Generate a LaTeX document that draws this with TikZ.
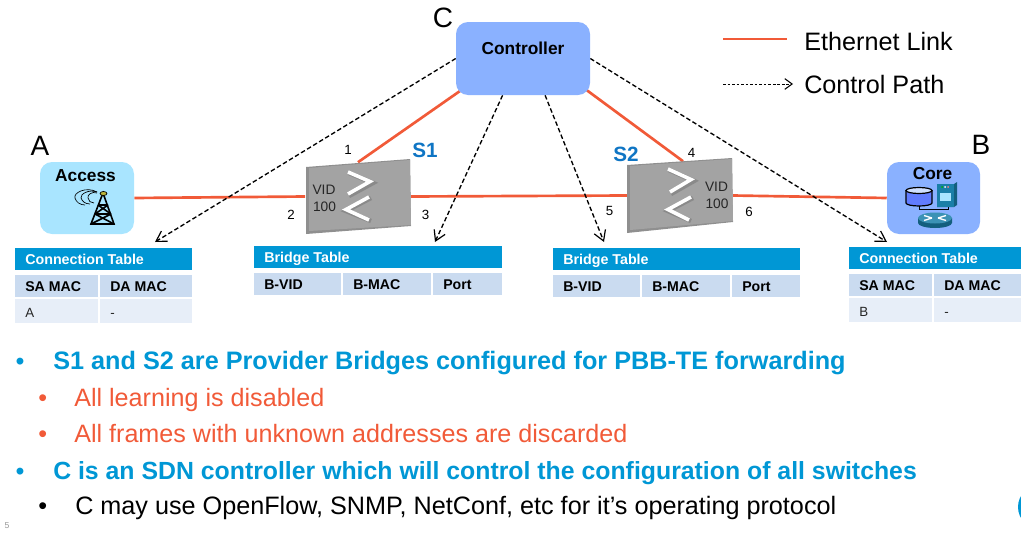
\documentclass[tikz,border=0pt]{standalone}
\usepackage{fontspec}
\setmainfont{Liberation Sans}
\usetikzlibrary{arrows.meta,calc,backgrounds}
\definecolor{linkred}{HTML}{F15A38}
\definecolor{hdrblue}{HTML}{0097D5}
\definecolor{rowblue}{HTML}{CADBF0}
\definecolor{cellblue}{HTML}{E7EEF8}
\definecolor{accessfill}{HTML}{A9E5FF}
\definecolor{ctrlfill}{HTML}{8AB1FF}
\definecolor{sblue}{HTML}{0F75C4}
\definecolor{teal}{HTML}{1A7FA8}
\newcommand{\fs}[1]{\fontsize{#1}{#1}\selectfont}
\newcommand{\tcell}[8]{%
  \fill[#6] (#2,#3) rectangle (#4,#5);
  \node[#7,anchor=base west,inner sep=0pt] (#1) at (#2+10,#5-5.5) {#8};}
\tikzset{
  x=0.75pt,y=-0.75pt,
  box/.style={rounded corners=9pt,inner sep=0pt,anchor=center},
  boxlabel/.style={font=\fs{13}\bfseries,inner sep=0pt},
  link/.style={draw=linkred,line width=2pt},
  ctl/.style={draw=black,line width=1pt,dash pattern=on 3.4pt off 1.9pt,-{Straight Barb[length=7.5pt,width=9pt,line width=0.9pt]}},
  hdrt/.style={font=\fs{10.7}\bfseries,text=white},
  colt/.style={font=\fs{10.6}\bfseries,text=black},
  valt/.style={font=\fs{10},text=black!85},
  port/.style={font=\fs{10},inner sep=0pt,text=black},
  big/.style={font=\fs{21},inner sep=0pt,text=black},
  swbox/.style={minimum width=78.75pt,minimum height=51pt,inner sep=0pt},
  swtext/.style={font=\fs{10.3},inner sep=0pt,align=center,text=black!85},
  blue text/.style={text=hdrblue,anchor=base west,inner sep=0pt},
  org text/.style={font=\fs{18.85},text=linkred,anchor=base west,inner sep=0pt},
  blk text/.style={font=\fs{18.9},text=black,anchor=base west,inner sep=0pt},
  chevs/.style={draw=black!55,line width=3.4pt,line join=miter,opacity=.5},
  chevw/.style={draw=white,line width=2.7pt,line join=miter},
}
\begin{document}
\begin{tikzpicture}
\useasboundingbox (0,0) rectangle (1021,539);
% boxes
\node[box,fill=accessfill,minimum width=70.5pt,minimum height=54pt] (access) at (87,198) {};
\node[box,fill=ctrlfill,minimum width=100.5pt,minimum height=54.75pt] (ctrl) at (523,58.5) {};
\node[box,fill=ctrlfill,minimum width=69.75pt,minimum height=54pt] (core) at (933.5,198) {};
\node[boxlabel] (ctrlt) at (523,48) {Controller};
\node[boxlabel] (acct) at (85.5,176) {Access};
\node[boxlabel] (coret) at (932.5,174) {Core};
\node[swbox] (s1) at (358,196.5) {};
\node[swbox] (s2) at (680,195.5) {};
% free ends
\coordinate (t1) at (155,242);
\coordinate (t2) at (435,242);
\coordinate (t3) at (604,242);
\coordinate (t4) at (887,242);
\begin{pgfonlayer}{background}
\draw[link] (access.east) -- (s1.west);
\draw[link] (s1.east) -- (s2.west);
\draw[link] (s2.east) -- (core.west);
\draw[link] ($(ctrl.center)+(-53,25.5)$) -- (s1.north);
\draw[link] ($(ctrl.center)+(54,24.5)$) -- (s2.85);
\draw[ctl] (ctrl.west) -- (t1);
\draw[ctl] (ctrl.241) -- (t2);
\draw[ctl] (ctrl.301) -- (t3);
\draw[ctl] (ctrl.east) -- (t4);
\end{pgfonlayer}
% switch S1
\fill[black!44] (306,167) -- (410,159) -- (411,226) -- (306,234) -- cycle;
\fill[black!36] (309,168) -- (410,160) -- (411,225) -- (309,231) -- cycle;
\draw[chevs] (349,173) -- (373,183) -- (349,196);
\draw[chevs] (371,198) -- (346,211) -- (371,221);
\draw[chevw] (348,172) -- (370,181.5) -- (348,194);
\draw[chevw] (369,197) -- (346,209.5) -- (369,220);
\node[swtext] (s1vid) at (324,190) {VID};
\node[swtext] (s1num) at (324.5,206.5) {100};
% switch S2
\fill[black!44] (627,165) -- (732,158) -- (733,222) -- (627,233) -- cycle;
\fill[black!36] (630,166) -- (732,159) -- (733,221) -- (630,230) -- cycle;
\draw[chevs] (669,170) -- (694,181) -- (671,194);
\draw[chevs] (693,198) -- (668,211) -- (691,221);
\draw[chevw] (668,169) -- (691,179.5) -- (670,192);
\draw[chevw] (691,197) -- (668,209.5) -- (689,220);
\node[swtext] (s2vid) at (716.5,187) {VID};
\node[swtext] (s2num) at (717,204) {100};
% port numbers & labels
\node[port] (p1) at (348,150) {1};
\node[port] (p2) at (291,215) {2};
\node[port] (p3) at (425.5,215) {3};
\node[port] (p4) at (691.5,153) {4};
\node[port] (p5) at (609.5,211) {5};
\node[port] (p6) at (749,212) {6};
\node[font=\fs{15.5}\bfseries,text=sblue,inner sep=0pt] (s1t) at (425,150) {S1};
\node[font=\fs{15.5}\bfseries,text=sblue,inner sep=0pt] (s2t) at (626,154) {S2};
\node[big] (la) at (40,146) {A};
\node[big] (lb) at (981,145) {B};
\node[big] (lc) at (443,18) {C};
% tower icon
\begin{scope}[line width=1.2pt,black]
\draw (103,193) -- (91,224) -- (114,224) -- cycle;
\draw (98,205) -- (108,205) (95,214) -- (111,214) (98,205) -- (111,214) (108,205) -- (95,214) (95,214) -- (114,224) (111,214) -- (91,224);
\draw[line width=.5pt] (97,192) .. controls (86,186) and (73,193) .. (75,198) .. controls (76,202) and (80,205) .. (85,205);
\draw[line width=.5pt] (97,192) .. controls (89,189) and (80,194) .. (81,198) .. controls (82,201) and (85,204) .. (90,204);
\draw[line width=.5pt] (97,193) .. controls (92,191) and (87,195) .. (88,198) .. controls (88,201) and (91,203) .. (94,203);
\fill[fill=yellow!70!black,draw=black,line width=.5pt] (103.5,193.5) ellipse (3.5 and 2);
\end{scope}
% core icon
\draw[line width=.7pt] (919,206) -- (919,209.5) -- (948,209.5) -- (948,206);
\draw[black,fill=ctrlfill!70!blue,line width=.9pt] (906,191) -- (906,203) arc[start angle=180,end angle=0,x radius=13,y radius=3] -- (932,191) -- cycle;
\draw[black,fill=ctrlfill!40,line width=.9pt] (919,190.5) ellipse (13 and 3);
\fill[teal!75!black] (937,184) -- (954,184) -- (957,182) -- (957,205) -- (954,207) -- (937,207) -- cycle;
\fill[teal] (937,184) rectangle (954,207);
\fill[accessfill] (940,193) rectangle (951,201);
\fill[green!70!black] (942,187) circle (1);
\fill[white] (945,187) circle (1);
\fill[red!50] (948,187) circle (1);
\fill[teal!75!black] (918,218) -- (918,223) arc[start angle=180,end angle=0,x radius=17,y radius=5] -- (952,218) -- cycle;
\fill[teal!85!white] (935,218) ellipse (17 and 5.5);
\draw[white,line width=1pt] (924,215.5) -- (932,218) (938,218) -- (946,215.5) (924,220.5) -- (932,218) (938,218) -- (946,220.5);
% tables
\tcell{c1h}{15}{248}{192}{270}{hdrblue}{hdrt}{Connection Table}
\tcell{c1a}{15}{275}{98}{297}{rowblue}{colt}{SA MAC}
\tcell{c1b}{100}{275}{192}{297}{rowblue}{colt}{DA MAC}
\tcell{c1c}{15}{299}{98}{323}{cellblue}{valt}{A}
\tcell{c1d}{100}{299}{192}{323}{cellblue}{valt}{-}
\tcell{b1h}{254}{246}{502}{268}{hdrblue}{hdrt}{Bridge Table}
\tcell{b1a}{254}{273}{341}{295}{rowblue}{colt}{B-VID}
\tcell{b1b}{343}{273}{431}{295}{rowblue}{colt}{B-MAC}
\tcell{b1c}{433}{273}{502}{295}{rowblue}{colt}{Port}
\tcell{b2h}{553}{248}{800}{270}{hdrblue}{hdrt}{Bridge Table}
\tcell{b2a}{553}{275}{640}{297}{rowblue}{colt}{B-VID}
\tcell{b2b}{642}{275}{730}{297}{rowblue}{colt}{B-MAC}
\tcell{b2c}{732}{275}{800}{297}{rowblue}{colt}{Port}
\tcell{c2h}{849}{247}{1021}{269}{hdrblue}{hdrt}{Connection Table}
\tcell{c2a}{849}{274}{932}{296}{rowblue}{colt}{SA MAC}
\tcell{c2b}{934}{274}{1021}{296}{rowblue}{colt}{DA MAC}
\tcell{c2c}{849}{298}{932}{322}{cellblue}{valt}{B}
\tcell{c2d}{934}{298}{1021}{322}{cellblue}{valt}{-}
% legend
\coordinate (l1a) at (723,39);
\coordinate (l1b) at (787,39);
\coordinate (l2a) at (723,84);
\coordinate (l2b) at (793,84);
\draw[link] (l1a) -- (l1b);
\draw[draw=black,line width=.7pt,dash pattern=on 2pt off 1.4pt,-{Straight Barb[length=5.5pt,width=8pt,line width=.8pt]}] (l2a) -- (l2b);
\node[font=\fs{18.9},anchor=base west,inner sep=0pt] (l1t) at (804,50) {Ethernet Link};
\node[font=\fs{18.9},anchor=base west,inner sep=0pt] (l2t) at (804,93) {Control Path};
% bullets
\node[blue text,font=\fs{18}\bfseries] (u1) at (15.5,369) {•};
\node[blue text,font=\fs{18.93}\bfseries] (t1a) at (53,369) {S1 and S2 are Provider Bridges configured for PBB-TE forwarding};
\node[org text] (u2) at (38,406) {•};
\node[org text] (t2a) at (74,406) {All learning is disabled};
\node[org text] (u3) at (38,442) {•};
\node[org text] (t3a) at (74,442) {All frames with unknown addresses are discarded};
\node[blue text,font=\fs{18}\bfseries] (u4) at (15.5,479) {•};
\node[blue text,font=\fs{18.62}\bfseries] (t4a) at (53,479) {C is an SDN controller which will control the configuration of all switches};
\node[blk text] (u5) at (38,514) {•};
\node[blk text] (t5a) at (75,514) {C may use OpenFlow, SNMP, NetConf, etc for it’s operating protocol};
\node[font=\fs{6.5},text=black!40,inner sep=0pt] (pg) at (7,526) {5};
\begin{scope}
\clip (1000,480) rectangle (1021,539);
\fill[hdrblue] (1040,507) circle (22);
\end{scope}
\end{tikzpicture}
\end{document}
